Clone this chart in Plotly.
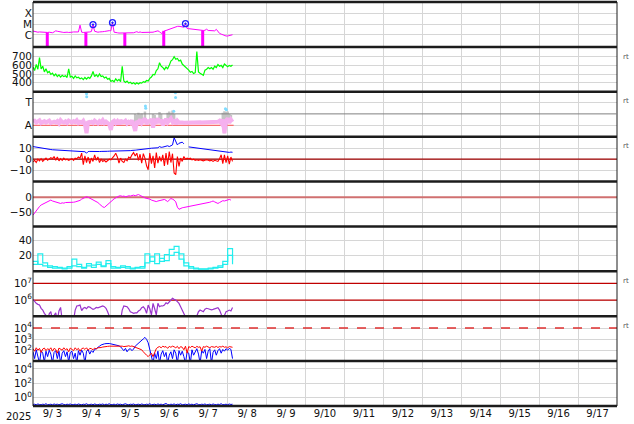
import numpy as np
import pandas as pd
import plotly.graph_objects as go
from plotly.subplots import make_subplots

T0 = pd.Timestamp("2025-09-03 00:00")
X_START = "2025-09-03 00:00"
X_END = "2025-09-18 00:00"
DAY_LABELS = ["9/ 3", "9/ 4", "9/ 5", "9/ 6", "9/ 7", "9/ 8", "9/ 9", "9/10",
              "9/11", "9/12", "9/13", "9/14", "9/15", "9/16", "9/17"]
YEAR_LABEL = "2025"

# ---- Panel 1: X-ray flux (hourly, W/m2)
XRAY_FLUX = [2.3e-6, 2.1e-6, 2.0e-6, 1.8e-6, 1.9e-6, 1.8e-6, 1.7e-6, 1.8e-6, 1.7e-6, 1.7e-6,
             1.8e-6, 1.7e-6, 1.6e-6, 1.9e-6, 2.4e-6, 2.2e-6, 2.0e-6, 1.7e-6, 1.8e-6, 1.7e-6,
             1.8e-6, 1.8e-6, 1.7e-6, 1.9e-6, 1.8e-6, 1.9e-6, 2.0e-6, 1.8e-6, 1.9e-6, 8.0e-6,
             1.8e-6, 1.7e-6, 1.7e-6, 1.7e-6, 1.8e-6, 1.9e-6, 2.1e-6, 9.0e-6, 2.2e-6, 1.9e-6,
             1.8e-6, 1.9e-6, 1.8e-6, 2.0e-6, 2.1e-6, 2.3e-6, 2.2e-6, 2.5e-6, 2.4e-6, 1.35e-5,
             1.8e-6, 1.6e-6, 1.6e-6, 1.5e-6, 1.5e-6, 1.5e-6, 1.5e-6, 1.5e-6, 1.5e-6, 1.6e-6,
             1.5e-6, 1.5e-6, 1.6e-6, 1.8e-6, 2.0e-6, 1.7e-6, 1.9e-6, 1.7e-6, 1.7e-6, 1.8e-6,
             1.7e-6, 1.8e-6, 1.8e-6, 1.9e-6, 1.8e-6, 2.0e-6, 2.2e-6, 2.4e-6, 2.0e-6, 1.4e-6,
             1.6e-6, 2.4e-6, 2.6e-6, 3.0e-6, 3.5e-6, 4.0e-6, 4.6e-6, 5.0e-6, 5.6e-6, 6.2e-6,
             6.3e-6, 5.8e-6, 5.5e-6, 5.2e-6, 1.1e-5, 4.0e-6, 3.8e-6, 3.6e-6, 3.3e-6, 3.2e-6,
             3.2e-6, 3.0e-6, 3.0e-6, 2.8e-6, 2.7e-6, 2.6e-6, 2.7e-6, 3.4e-6, 2.6e-6, 2.5e-6,
             2.3e-6, 2.2e-6, 2.4e-6, 3.3e-6, 2.0e-6, 1.4e-6, 1.2e-6, 1.0e-6, 9.0e-7, 8.0e-7,
             8.0e-7, 8.5e-7, 1.0e-6, 1.05e-6]
XRAY_DIP_HOURS = [8.8, 32.6, 56.6, 80.6, 104.6]
XRAY_DIP_FLOOR = 1e-9
FLARE_HOURS = [37, 49, 94]
FLARE_FLUX = [9.0e-6, 1.35e-5, 1.1e-5]

# ---- Panel 2: solar wind speed (hourly, km/s)
SPEED = [580, 540, 610, 555, 690, 560, 590, 525, 560, 515, 530, 495, 510, 480, 500, 470,
         490, 465, 485, 470, 480, 460, 560, 465,
         475, 450, 478, 455, 462, 445, 455, 435, 460, 440, 462, 450, 478, 530, 470, 492,
         468, 500, 470, 478, 455, 465, 440, 450,
         415, 425, 410, 445, 420, 438, 412, 590, 420, 402, 418, 395, 405, 388, 400, 382,
         398, 385, 400, 395, 412, 405, 425, 420,
         450, 465, 495, 490, 540, 560, 630, 590, 575, 550, 580, 560, 600, 650, 665, 700,
         670, 680, 650, 660, 615, 600, 575, 560,
         545, 520, 530, 505, 515, 760, 525, 510, 495, 485, 545, 555, 575, 560, 575, 555,
         590, 575, 610, 590, 600, 575, 615, 595, 585, 600, 590, 605]

# ---- Panel 3: IMF sector (A = 0, T = 1)
SECTOR = [0.18, 0.2, 0.12, 0.15, 0.22, 0.1, 0.14, 0.18, 0.12, 0.15, 0.2, 0.1,
          0.13, 0.16, 0.12, 0.18, 0.08, 0.22, 0.14, 0.12, 0.17, 0.1, 0.2, 0.15,
          0.12, 0.18, 0.14, 0.22, 0.1, 0.15, 0.12, 0.2, 0.05, -0.35, 0.18, 0.12,
          0.15, 0.1, 0.2, 0.14, 0.08, 0.18, 0.12, 0.22, 0.1, 0.16, 0.12, 0.05,
          -0.2, 0.15, 0.2, 0.1, 0.18, 0.05, 0.22, 0.12, 0.14, 0.2, 0.08, 0.15,
          0.1, 0.22, 0.0, -0.25, 0.18, 0.12, 0.25, 0.1, 0.2, 0.3, 0.05, 0.22,
          0.12, 0.28, -0.1, 0.2, 0.15, 0.3, 0.1, 0.25, 0.0, 0.2, 0.28, 0.12,
          0.22, 0.3, 0.15, 0.25, 0.05, 0.2, 0.12, 0.1, 0.12, 0.11, 0.12, 0.12,
          0.12, 0.13, 0.12, 0.12, 0.13, 0.12, 0.12, 0.13, 0.12, 0.12, 0.13, 0.12,
          0.12, 0.13, 0.12, 0.12, 0.14, 0.12, 0.15, 0.2, 0.1, 0.25, -0.35, 0.2,
          0.3, 0.1, 0.25, 0.15]
SECTOR_GRAY_HOURS = [63, 64, 65, 66, 67, 69, 74, 75, 78, 79, 83, 84, 85, 86, 87,
                     117, 118, 119, 120, 121, 122]
SECTOR_GRAY_TOP = [0.5, 0.45, 0.55, 0.48, 0.52, 0.6, 0.5, 0.45, 0.58, 0.5, 0.55, 0.6,
                   0.52, 0.65, 0.5, 0.55, 0.62, 0.58, 0.6, 0.5, 0.45]
SECTOR_CYAN_HOURS = [33.0, 33.1, 69.3, 69.5, 86.8, 87.8, 87.9, 118.6, 119.2]
SECTOR_CYAN = [1.38, 1.25, 0.85, 0.75, 0.62, 1.43, 1.22, 0.72, 0.68]
SECTOR_AWAY = 0.0
SECTOR_MID = 0.5

# ---- Panel 4: IMF Bt / Bz (hourly, nT)
BT = [11.5, 11.2, 11, 10.8, 10.5, 10.2, 10, 9.8, 9.5, 9.2, 9, 8.8,
      8.6, 8.5, 8.4, 8.3, 8.5, 8.2, 8, 7.8, 7.7, 7.6, 7.6, 7.5,
      7.6, 7.5, 7.4, 7.3, 7.2, 7.0, 7.1, 7.0, 6.8, 5.5, 7.0, 7.1,
      7.0, 7.0, 7.1, 6.9, 7.0, 7.0, 7.1, 7.0, 7.2, 7.3, 7.2, 7.3,
      7.3, 7.4, 7.3, 7.2, 7.4, 7.3, 7.2, 7.4, 7.5, 7.5, 7.6, 7.8,
      7.8, 8.0, 7.9, 8.2, 8.4, 8.5, 8.7, 8.8, 9.0, 9.2, 9.0, 9.5,
      9.8, 10.0, 10.2, 10.0, 10.6, 10.4, 11.5, 10.8, 11.0, 11.5, 12.0, 12.2,
      11.5, 12.5, 13.0, 19.5, 16.0, 13.0, 14.5, 15.0, 15.5, 14.0, None, None,
      11.2, 11, 10.8, 10.5, 10.3, 10, 10, 9.8, 9.6, 9.5, 9.3, 9.2,
      9.0, 8.8, 8.6, 8.4, 8.2, 8.0, 7.8, 7.6, 7.4, 7.0, 6.6, 6.4,
      6.4, 6.2, 6.5, 6.3]
BZ = [-2.5, -1, -3, 0, -1.5, 0.5, -2, -0.5, 1, -1, 0, 1.5,
      0.5, 2.5, -1, 2, -1.5, 0.5, -1, 1, -0.5, 0, -1, -0.5,
      0.5, -1, 1, 0.5, 2, 1, 5.5, -5, 3, -3, 2, -4,
      1, -2, 4, -1, 2, -3, 0, -2, -1, -2.5, -1, 0,
      -0.5, 1, 3, 5.5, 2, -3.5, 1, -2, -3, 0, -1.5, 2,
      1, 4, 6, 3, 5.5, -1, 4.5, -3.5, 5, 1, -6, -9.5,
      5.5, -4, 3, -8, 6, -3.5, 2.5, -2, 4, -6, 5.5, -5,
      7, -3, 5, -12.5, -14, 2.5, -6.5, 1, -2, 2.5, 0, 1,
      0.5, 1, -0.5, 0, -1, -0.5, -1, -0.5, -1, -1.5, -1, -0.5,
      -1, -1.5, -1, -2, -1, -1.5, -2, 0.5, 4, -4, 4, -3,
      3, -4.5, 2, -2]

# ---- Panel 5: Dst (hourly, nT)
DST = [-58, -50, -42, -35, -30, -25, -22, -20, -18, -14, -10, -9, -12, -14, -16, -18,
       -19, -20, -18, -19, -17, -17, -18, -16, -17, -16, -15, -14, -12, -10, -6, -3,
       -1, 2, 0, -3, -5, -7, -10, -13, -17, -22, -27, -31, -33, -28, -22, -18,
       -14, -10, -5, -2, 2, 4, 5, 3, 4, 2, 3, 5, 4, 6, 7, 5,
       8, 9, 6, 2, 1, -2, -3, -5, -6, -9, -10, -12, -14, -12, -11, -9,
       -8, -7, -10, -14, -9, -4, -6, -9, -15, -32, -39, -36, -34, -33, -32, -30,
       -29, -28, -27, -26, -25, -24, -23, -22, -21, -21, -20, -20, -18, -16, -14, -12,
       -15, -18, -20, -17, -13, -11, -12, -10, -8, -7, -9]

# ---- Panel 6: activity index, two series (3-hourly)
IDX_A = [8, 22, 10, 6, 5, 4, 3, 5, 15, 8, 4, 9, 7, 11, 6, 13, 5, 4, 6, 5, 3,
         4, 5, 22, 12, 22, 12, 21, 28, 32, 22, 10, 5, 3, 2, 2, 3, 4, 6, 12, 29, 14]
IDX_B = [12, 8, 6, 4, 3, 3, 2, 3, 6, 5, 3, 6, 4, 8, 5, 9, 3, 3, 4, 3, 2,
         3, 3, 10, 18, 9, 16, 13, 20, 24, 15, 6, 3, 2, 1.5, 1.5, 2, 3, 4, 8, 20, 8]

# ---- Panel 7: >2 MeV electron flux (hourly)
ELECTRON = [1.1e6, 8e5, 6.3e5, 5.5e5, 5e5, 3.2e5, 2.5e5, 1.6e5, 1.2e5, 6e4, 1.5e5, 2e5,
            6e4, 1.2e5, 1.7e5, 6e4, 2.2e5, 3.6e5, 6e4, 6e4, 6e4, 6e4, 6e4, 6e4,
            6e4, 6e4, 2.5e5, 4.4e5, 4.6e5, 5e5, 2.3e5, 3.2e5, 3.6e5, 3e5, 4e5, 3.8e5,
            3.2e5, 2.75e5, 3e5, 3.6e5, 3.4e5, 3.8e5, 4.2e5, 4.4e5, 4e5, 3.2e5, 2e5, 8e4,
            6e4, 6e4, 6e4, 6e4, 6e4, 6e4, 6e4, 2.5e5, 4.4e5, 4.2e5, 4e5, 3e5,
            2e5, 1.8e5, 1.6e5, 1.7e5, 1.7e5, 2.2e5, 2.5e5, 3.5e5, 4e5, 3e5, 1.6e5, 5e5,
            3e5, 1.3e5, 6.3e5, 3e5, 1.3e5, 6.3e5, 4e5, 4.5e5, 4.4e5, 5e5, 6.9e5, 6e5,
            7.9e5, 1e6, 1.26e6, 1.1e6, 1e6, 8e5, 6.3e5, 4e5, 2.5e5, 1.5e5, 1e5, 6e4,
            6e4, 6e4, 6e4, 6e4, 6e4, 1.1e5, 2e5, 2.5e5, 2.2e5, 2e5, 2.8e5, 3.2e5,
            3e5, 2.8e5, 2.6e5, 2.75e5, 3e5, 3.2e5, 3.5e5, 2.5e5, 1.6e5, 8e4, 1.2e5, 2e5,
            2.2e5, 2.5e5, 2.2e5, 3.6e5]
ELECTRON_LEVELS = [1e6, 1e7]

# ---- Panel 8: proton flux, two channels (hourly)
PROTON_BLUE = [80, 20, 120, 40, 8, 100, 60, 10, 90, 30, 110, 50, 8, 70, 100, 20, 90, 8,
               60, 100, 30, 80, 10, 70,
               90, 20, 60, 8, 100, 40, 110, 60, 8, 90, 120, 50, 100, 70, 130, 150, 180, 250,
               320, 380, 400, 420, 450, 430,
               400, 380, 350, 330, 300, 270, 220, 150, 100, 160, 80, 130, 150, 100, 140, 250,
               350, 450, 600, 800, 1100, 1500, 1000, 500,
               150, 40, 8, 60, 20, 90, 8, 50, 100, 30, 70, 8, 40, 80, 20, 120, 60, 8,
               100, 40, 90, 30, 8, 80,
               60, 8, 120, 40, 90, 150, 50, 8, 100, 60, 130, 20, 90, 150, 8, 70, 120, 40,
               100, 150, 60, 130, 90, 150, 110, 160, 130, 20]
PROTON_RED = [150, 90, 180, 110, 160, 70, 140, 170, 100, 150, 120, 180, 90, 160, 130, 60,
              170, 140, 110, 180, 120, 150, 80, 170,
              140, 100, 180, 120, 160, 90, 150, 170, 130, 180, 110, 160, 150, 120, 170, 140,
              180, 200, 190, 210, 230, 220, 240, 250,
              250, 260, 240, 270, 250, 260, 240, 250, 230, 260, 250, 270, 240, 260, 230, 220,
              200, 180, 150, 120, 80, 50, 40, 30,
              40, 60, 30, 80, 150, 200, 230, 180, 250, 210, 230, 160, 240, 200, 250, 220,
              180, 240, 150, 230, 200, 120, 250, 60,
              230, 190, 250, 210, 180, 240, 200, 220, 90, 230, 200, 250, 210, 180, 230, 220,
              200, 240, 190, 230, 210, 250, 200, 220, 180, 230, 210, 200]
PROTON_LEVEL = 1e4

# ---- Panel 9: high-energy channel (hourly)
HIGH_E = [0.11, 0.12, 0.1, 0.13, 0.11, 0.1, 0.12, 0.11, 0.14, 0.1, 0.11, 0.12,
          0.1, 0.13, 0.11, 0.12, 0.1, 0.11, 0.14, 0.11, 0.1, 0.12, 0.11, 0.13,
          0.1, 0.11, 0.12, 0.1, 0.13, 0.11, 0.1, 0.12, 0.11, 0.14, 0.1, 0.11,
          0.12, 0.1, 0.13, 0.11, 0.1, 0.12, 0.11, 0.13, 0.1, 0.12, 0.11, 0.14,
          0.1, 0.11, 0.12, 0.1, 0.13, 0.11, 0.12, 0.1, 0.11, 0.14, 0.11, 0.1,
          0.12, 0.11, 0.13, 0.1, 0.11, 0.12, 0.1, 0.13, 0.11, 0.1, 0.12, 0.11,
          0.14, 0.1, 0.11, 0.12, 0.1, 0.13, 0.11, 0.12, 0.1, 0.11, 0.15, 0.11,
          0.1, 0.12, 0.11, 0.13, 0.1, 0.12, 0.11, 0.14, 0.1, 0.11, 0.12, 0.1,
          0.13, 0.11, 0.12, 0.1, 0.11, 0.14, 0.11, 0.1, 0.12, 0.11, 0.13, 0.1,
          0.11, 0.12, 0.1, 0.13, 0.11, 0.1, 0.12, 0.11, 0.14, 0.1, 0.11, 0.12,
          0.1, 0.13, 0.11, 0.12]


def at_hours(hours):
    return [T0 + pd.Timedelta(hours=float(h)) for h in hours]


def hourly(vals, step=1):
    return at_hours([i * step for i in range(len(vals))])


FONT = "DejaVu Sans"
GRID = "#d6d6d6"
N = 9
fig = make_subplots(rows=N, cols=1, shared_xaxes=True, vertical_spacing=0)


def line(x, y, color, width, row, dash=None, shape="linear", mode="lines", marker=None):
    kw = dict(x=x, y=y, mode=mode, hoverinfo="skip", showlegend=False,
              line=dict(color=color, width=width, dash=dash, shape=shape))
    if marker:
        kw["marker"] = marker
    fig.add_trace(go.Scatter(**kw), row=row, col=1)


span = [pd.Timestamp(X_START), pd.Timestamp(X_END)]
data_span = [T0, T0 + pd.Timedelta(hours=len(SPEED) - 0.3)]

# Panel 1
line(hourly(XRAY_FLUX), XRAY_FLUX, "#ff00ff", 1, 1)
dx, dy = [], []
for h in XRAY_DIP_HOURS:
    base = XRAY_FLUX[int(round(h))]
    dx += at_hours([h, h]) + [None]
    dy += [base, XRAY_DIP_FLOOR, None]
line(dx, dy, "#ff00ff", 3, 1)
line(at_hours(FLARE_HOURS), FLARE_FLUX, "#2020ff", 1, 1, mode="markers",
     marker=dict(symbol="circle-open-dot", size=6, color="#2020ff", line=dict(width=1.3)))

# Panel 2
line(hourly(SPEED), SPEED, "#00ff00", 1.2, 2)

# Panel 3
line(data_span, [SECTOR_AWAY, SECTOR_AWAY], "#ff5050", 1, 3)
gx, gy = [], []
for h, top in zip(SECTOR_GRAY_HOURS, SECTOR_GRAY_TOP):
    gx += at_hours([h, h]) + [None]
    gy += [SECTOR[h], top, None]
line(gx, gy, "#c4c4c4", 2.5, 3)
line(hourly(SECTOR), SECTOR, "#f5b0ee", 4, 3)
line(at_hours(SECTOR_CYAN_HOURS), SECTOR_CYAN, "#80dcff", 1, 3, mode="markers",
     marker=dict(size=3, color="#80dcff"))

# Panel 4
line(span, [0, 0], "#a00000", 1.2, 4)
line(hourly(BT), BT, "#0000ff", 1, 4)
line(hourly(BZ), BZ, "#ff0000", 1.1, 4)

# Panel 5
line(span, [0, 0], "#d07070", 2, 5)
line(hourly(DST), DST, "#ff00ff", 1, 5)

# Panel 6
line(hourly(IDX_A, 3), IDX_A, "#22eeee", 1.2, 6, shape="hv")
line(hourly(IDX_B, 3), IDX_B, "#22eeee", 1.2, 6, shape="hv")

# Panel 7
for lv in ELECTRON_LEVELS:
    line(span, [lv, lv], "#c00000", 1.2, 7)
line(hourly(ELECTRON), ELECTRON, "#9933cc", 1.2, 7)

# Panel 8
line(span, [PROTON_LEVEL, PROTON_LEVEL], "#e03030", 1.5, 8, dash="dash")
line(hourly(PROTON_BLUE), PROTON_BLUE, "#0000ff", 1, 8)
line(hourly(PROTON_RED), PROTON_RED, "#ff0000", 1, 8)

# Panel 9
line(hourly(HIGH_E), HIGH_E, "#0000ff", 1, 9)

# Axes
noons = [T0 + pd.Timedelta(hours=12 + 24 * i) for i in range(len(DAY_LABELS))]
midnights = [T0 + pd.Timedelta(days=i) for i in range(len(DAY_LABELS) + 1)]
fig.update_xaxes(range=span, tickvals=noons, ticktext=DAY_LABELS, ticks="",
                 showgrid=False, zeroline=False, showline=False,
                 minor=dict(tickvals=midnights, showgrid=True, gridcolor=GRID, gridwidth=1, ticks=""),
                 tickfont=dict(family=FONT, size=10, color="#111"))
fig.update_xaxes(showticklabels=True, row=9, col=1)

yfont = dict(family=FONT, size=10.5, color="#111")
yconf = [
    dict(type="log", range=[-7.1, -2.96], tickvals=[1e-6, 1e-5, 1e-4], ticktext=["C", "M", "X"]),
    dict(range=[295, 813], tickvals=[400, 500, 600, 700]),
    dict(range=[-0.5, 1.47], tickvals=[0, 1], ticktext=["A", "T"]),
    dict(range=[-20.3, 20.5], tickvals=[-10, 0, 10]),
    dict(range=[-94.5, 51], tickvals=[-50, 0]),
    dict(range=[-1.3, 58.6], tickvals=[20, 40]),
    dict(type="log", range=[5.03, 7.72], tickvals=[1e6, 1e7],
         ticktext=["10<sup>6</sup>", "10<sup>7</sup>"]),
    dict(type="log", range=[1.08, 5.04], tickvals=[1e2, 1e3, 1e4],
         ticktext=["10<sup>2</sup>", "10<sup>3</sup>", "10<sup>4</sup>"]),
    dict(type="log", range=[-1.17, 5.1], tickvals=[1e0, 1e2, 1e4],
         ticktext=["10<sup>0</sup>", "10<sup>2</sup>", "10<sup>4</sup>"]),
]
for i, c in enumerate(yconf, start=1):
    fig.update_yaxes(row=i, col=1, showgrid=True, gridcolor=GRID, gridwidth=1,
                     zeroline=False, showline=False, ticks="", tickfont=yfont,
                     automargin=False, **c)
fig.update_xaxes(automargin=False)

shapes = []
for k in range(N + 1):
    shapes.append(dict(type="line", xref="paper", yref="paper", x0=0, x1=1,
                       y0=k / N, y1=k / N, line=dict(color="#1c1c1c", width=2.5)))
for xv in (0, 1):
    shapes.append(dict(type="line", xref="paper", yref="paper", x0=xv, x1=xv,
                       y0=0, y1=1, line=dict(color="#1c1c1c", width=1)))
# mid line of sector panel
shapes.append(dict(type="line", xref="paper", yref="y3", x0=0, x1=1,
                   y0=SECTOR_MID, y1=SECTOR_MID, line=dict(color="#808080", width=1)))

annotations = [dict(text=YEAR_LABEL, xref="paper", yref="paper", x=-0.0245, y=-0.0265,
                    xanchor="center", yanchor="middle", showarrow=False,
                    font=dict(family=FONT, size=10, color="#111"))]
for row in (2, 3, 4, 7, 8):
    ytop = 1 - (row - 1) / N
    annotations.append(dict(text="rt", xref="paper", yref="paper", x=1.006, y=ytop - 0.024,
                            xanchor="left", yanchor="middle", showarrow=False,
                            font=dict(family=FONT, size=7, color="#555")))

fig.update_layout(width=634, height=424, margin=dict(l=33, r=17, t=2, b=18),
                  paper_bgcolor="white", plot_bgcolor="white",
                  shapes=shapes, annotations=annotations, showlegend=False)

fig.write_html("out.html", config={"displayModeBar": False},
               post_script="document.body.style.margin='0px';")
